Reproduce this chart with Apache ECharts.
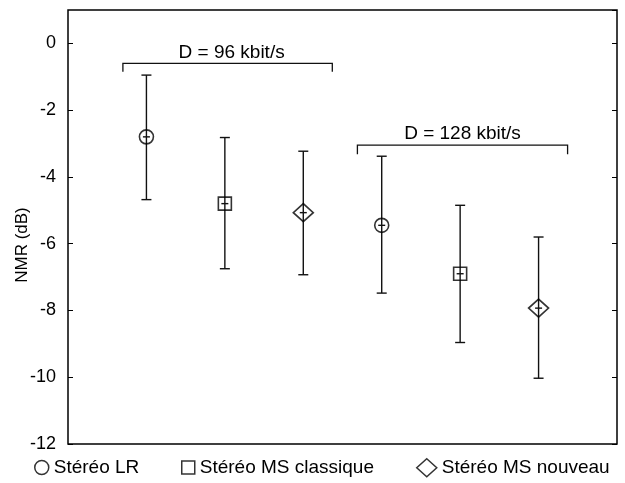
<!DOCTYPE html>
<html>
<head>
<meta charset="utf-8">
<script src="https://cdn.jsdelivr.net/npm/echarts@6/dist/echarts.min.js"></script>
<style>
  html, body { margin: 0; padding: 0; background: #fff; }
  #chart { width: 625px; height: 483px; }
</style>
</head>
<body>
<div id="chart"></div>
<script>
// series names and the group of each point (LR, MS classique, MS nouveau)
const seriesNames = ['Stéréo LR', 'Stéréo MS classique', 'Stéréo MS nouveau'];
const seriesSymbols = ['circle', 'rect', 'diamond'];
const xPos = [1, 2, 3, 4, 5, 6];
const groupOf = [0, 1, 2, 0, 1, 2];
// NMR values in dB: mean and error bar limits
const means = [-2.80, -4.80, -5.07, -5.45, -6.90, -7.93];
const upper = [-0.95, -2.82, -3.23, -3.38, -4.85, -5.80];
const lower = [-4.68, -6.75, -6.93, -7.48, -8.96, -10.03];
// bitrate brackets
const bracketLabels = ['D = 96 kbit/s', 'D = 128 kbit/s'];
const bracketFrom = [0.70, 3.69];
const bracketTo = [3.37, 6.37];
const bracketY = [-0.60, -3.05];
const bracketLegY = [-0.85, -3.32];
const yTicks = { min: -12, max: 1, interval: 2 };

const FONT = "'Liberation Sans', Arial, sans-serif";
const chart = echarts.init(document.getElementById('chart'));

const errData = xPos.map((x, i) => [x, means[i], lower[i], upper[i]]);

const markerSeries = seriesNames.map((name, g) => ({
  name: name,
  type: 'scatter',
  symbol: seriesSymbols[g],
  symbolSize: g === 0 ? 14 : g === 1 ? 13 : [20, 18],
  z: 5,
  itemStyle: { color: 'rgba(0,0,0,0)', borderColor: '#000', borderWidth: 1.6 },
  emphasis: { disabled: true },
  data: xPos.map((x, i) => groupOf[i] === g ? [x, means[i]] : null).filter(d => d)
}));

const legendLeft = [29, 176, 411];
const legendSize = [[14, 14], [13, 13], [20, 18]];

const option = {
  animation: false,
  backgroundColor: '#fff',
  textStyle: { fontFamily: FONT },
  grid: {
    left: 68, right: 8, top: 10, bottom: 39,
    show: true, borderColor: '#000', borderWidth: 1.5
  },
  xAxis: {
    type: 'value', min: 0, max: 7,
    axisLine: { show: false }, axisTick: { show: false },
    axisLabel: { show: false }, splitLine: { show: false }
  },
  yAxis: [
    {
      type: 'value', min: yTicks.min, max: yTicks.max, interval: yTicks.interval,
      axisLine: { show: false },
      axisTick: { show: true, inside: true, length: 5, lineStyle: { color: '#000', width: 1 } },
      axisLabel: { color: '#000', fontSize: 18, margin: 12, showMaxLabel: false, fontFamily: FONT },
      splitLine: { show: false }
    },
    {
      type: 'value', position: 'right', min: yTicks.min, max: yTicks.max, interval: yTicks.interval,
      axisLine: { show: false },
      axisTick: { show: true, inside: true, length: 5, lineStyle: { color: '#000', width: 1 } },
      axisLabel: { show: false },
      splitLine: { show: false }
    }
  ],
  legend: seriesNames.map((name, g) => ({
    data: [{ name: name, icon: seriesSymbols[g] }],
    left: legendLeft[g],
    top: 453,
    selectedMode: false,
    itemWidth: legendSize[g][0],
    itemHeight: legendSize[g][1],
    itemStyle: { color: 'rgba(0,0,0,0)', borderColor: '#000', borderWidth: 1.5 },
    textStyle: { color: '#000', fontSize: 19, fontFamily: FONT }
  })),
  graphic: [{
    type: 'text',
    x: 22, y: 245,
    rotation: Math.PI / 2,
    style: {
      text: 'NMR (dB)', fill: '#000', font: '17px ' + FONT,
      textAlign: 'center', textVerticalAlign: 'middle'
    }
  }],
  series: [
    {
      type: 'custom',
      name: 'err',
      z: 3,
      silent: true,
      renderItem: (params, api) => {
        const x = api.value(0);
        const mid = api.coord([x, api.value(1)]);
        const lo = api.coord([x, api.value(2)]);
        const hi = api.coord([x, api.value(3)]);
        const cap = 5, plus = 3.5;
        const st = { stroke: '#111', lineWidth: 1.4 };
        return {
          type: 'group',
          children: [
            { type: 'line', shape: { x1: hi[0], y1: hi[1], x2: lo[0], y2: lo[1] }, style: st },
            { type: 'line', shape: { x1: hi[0] - cap, y1: hi[1], x2: hi[0] + cap, y2: hi[1] }, style: st },
            { type: 'line', shape: { x1: lo[0] - cap, y1: lo[1], x2: lo[0] + cap, y2: lo[1] }, style: st },
            { type: 'line', shape: { x1: mid[0] - plus, y1: mid[1], x2: mid[0] + plus, y2: mid[1] }, style: st }
          ]
        };
      },
      data: errData
    },
    {
      type: 'custom',
      name: 'brackets',
      z: 3,
      silent: true,
      renderItem: (params, api) => {
        const i = params.dataIndex;
        const a = api.coord([api.value(0), api.value(2)]);
        const b = api.coord([api.value(1), api.value(2)]);
        const legA = api.coord([api.value(0), api.value(3)]);
        const legB = api.coord([api.value(1), api.value(3)]);
        return {
          type: 'group',
          children: [
            {
              type: 'polyline',
              shape: { points: [[legA[0], legA[1]], [a[0], a[1]], [b[0], b[1]], [legB[0], legB[1]]] },
              style: { stroke: '#111', lineWidth: 1.3, fill: null }
            },
            {
              type: 'text',
              x: (a[0] + b[0]) / 2 + (i === 0 ? 4 : 0),
              y: a[1] - 1.5,
              style: {
                text: bracketLabels[i], fill: '#000', font: '19px ' + FONT,
                textAlign: 'center', textVerticalAlign: 'bottom'
              }
            }
          ]
        };
      },
      data: bracketLabels.map((l, i) => [bracketFrom[i], bracketTo[i], bracketY[i], bracketLegY[i]])
    }
  ].concat(markerSeries)
};

chart.setOption(option);
</script>
</body>
</html>
